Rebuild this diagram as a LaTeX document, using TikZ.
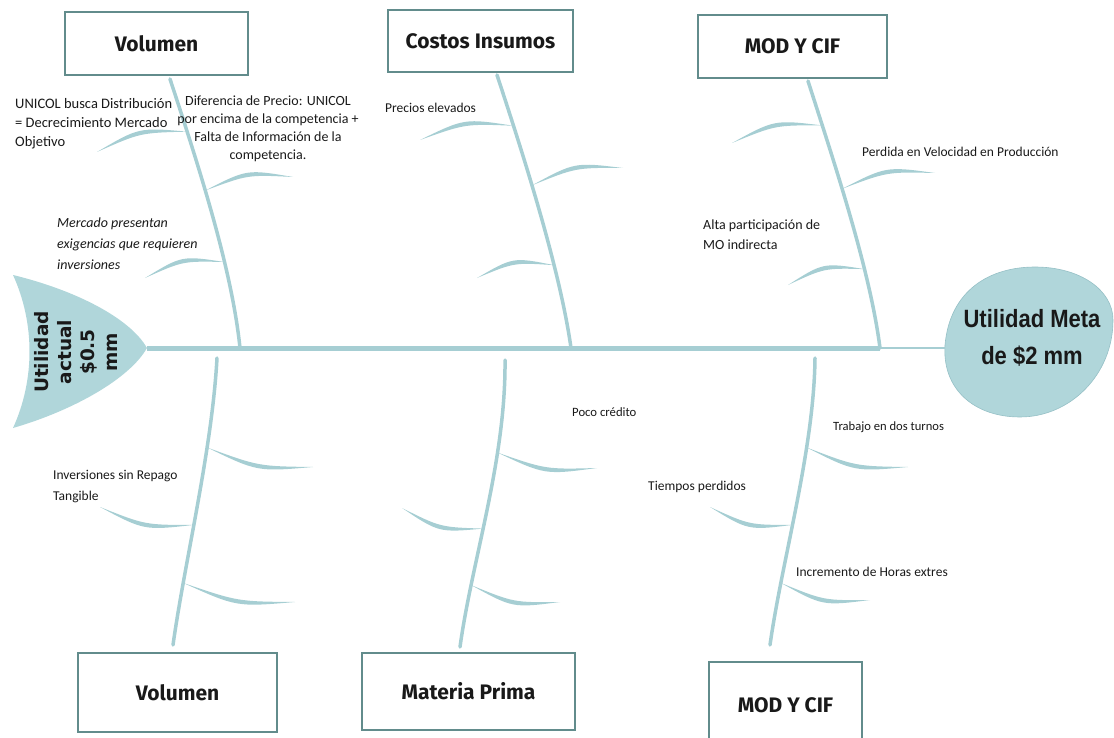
\documentclass[tikz,border=0pt]{standalone}
\usepackage{fontspec}
\setmainfont{Carlito}
\newfontfamily\titlefont{Fira Sans}
\newfontfamily\headfont{Liberation Sans}
\newfontfamily\tailfont{DejaVu Sans}
\usetikzlibrary{calc}

\definecolor{bonecol}{RGB}{166,206,211}
\definecolor{fishcol}{RGB}{176,214,218}
\definecolor{fishline}{RGB}{150,192,198}
\definecolor{boxline}{RGB}{98,140,140}
\definecolor{txtcol}{RGB}{25,25,25}

% rib: joint on the bone, outer end, bend
\newcommand{\rib}[3]{%
  \pgfmathsetmacro{\ribhi}{#3+2.8}\pgfmathsetmacro{\riblo}{#3-2.8}%
  \fill[bonecol] (#1) .. controls ($(#1)!0.5!(#2)!\ribhi pt!90:(#2)$) .. (#2)
    .. controls ($(#1)!0.5!(#2)!\riblo pt!90:(#2)$) .. (#1);}

\begin{document}
\begin{tikzpicture}[x=1pt, y=-1pt]
\tikzset{ catbox/.style={draw=boxline, line width=1.6pt, fill=white, inner sep=0pt,
            font=\titlefont\bfseries\fontsize{21}{25}\selectfont, text=txtcol},
          lbl/.style={inner sep=0pt, anchor=west, align=left, text=txtcol,
            font=\fontsize{13.5}{19}\selectfont},
          bigbone/.style={draw=bonecol, line width=3.5pt, line cap=round},
          spine/.style={draw=bonecol, line width=5pt} }

\useasboundingbox (0,0) rectangle (1114,738);
\clip (0,0) rectangle (1114,738);

% tail and head
\fill[fishcol] (13,275) .. controls (75,290) and (130,318) .. (147,348)
   .. controls (130,378) and (75,410) .. (13,428)
   .. controls (35,380) and (35,323) .. cycle;
\coordinate (tailtip) at (147,348);
\node [rotate=90, align=center, inner sep=0pt, text=txtcol,
       font=\tailfont\bfseries\fontsize{18.5}{23}\selectfont] (tail) at (76,352)
       {Utilidad\\actual\\\$0.5\\mm};

\filldraw[fill=fishcol, draw=fishline, line width=0.6pt] (945,345)
   .. controls (950,290) and (990,267) .. (1035,267)
   .. controls (1080,267) and (1113,290) .. (1113,320)
   .. controls (1113,375) and (1070,417) .. (1020,417)
   .. controls (975,417) and (942,390) .. cycle;
\coordinate (headW) at (945,348);
\node [align=center, inner sep=0pt, text=txtcol, xscale=0.88,
       font=\headfont\bfseries\fontsize{25}{37}\selectfont] (head) at (1032,338)
       {Utilidad Meta\\de \$2 mm};

% spine
\coordinate (sV) at (240,348);
\coordinate (sC) at (571,348);
\coordinate (sM) at (880,348);
\draw[spine] (tailtip) -- (sM);
\draw[draw=bonecol, line width=2pt] (sM) -- (headW);

% category boxes
\node [catbox, minimum width=183, minimum height=63] (volT) at (156.5,43.5) {Volumen};
\node [catbox, minimum width=185, minimum height=62] (cosT) at (480.5,41) {Costos Insumos};
\node [catbox, minimum width=189, minimum height=63] (modT) at (792.5,46.5) {MOD Y CIF};
\node [catbox, minimum width=199, minimum height=79] (volB) at (177.5,692.5) {Volumen};
\node [catbox, minimum width=213, minimum height=77] (matB) at (468.5,691.5) {Materia Prima};
\node [catbox, minimum width=153, minimum height=86] (modB) at (785.5,705) {MOD Y CIF};

% upper bones
\coordinate (vTt) at (170,79);
\coordinate (cTt) at (497,75);
\coordinate (mTt) at (808,81);
\draw[bigbone] (vTt) .. controls (200,170) and (232,270) .. (sV)
   coordinate[pos=0.19] (vT1) coordinate[pos=0.40] (vT2) coordinate[pos=0.66] (vT3);
\draw[bigbone] (cTt) .. controls (525,160) and (560,270) .. (sC)
   coordinate[pos=0.19] (cT1) coordinate[pos=0.40] (cT2) coordinate[pos=0.68] (cT3);
\draw[bigbone] (mTt) .. controls (835,165) and (870,270) .. (sM)
   coordinate[pos=0.17] (mT1) coordinate[pos=0.40] (mT2) coordinate[pos=0.69] (mT3);

% lower bones
\coordinate (vBt) at (217,358);  \coordinate (vBb) at (173,645);
\coordinate (mBt) at (505,360);  \coordinate (mBb) at (460,647);
\coordinate (oBt) at (815,358);  \coordinate (oBb) at (770,645);
\draw[bigbone] (vBt) .. controls (212,450) and (185,560) .. (vBb)
   coordinate[pos=0.31] (vB1) coordinate[pos=0.57] (vB2) coordinate[pos=0.77] (vB3);
\draw[bigbone] (mBt) .. controls (506,460) and (472,560) .. (mBb)
   coordinate[pos=0.31] (mB1) coordinate[pos=0.57] (mB2) coordinate[pos=0.77] (mB3);
\draw[bigbone] (oBt) .. controls (814,450) and (782,560) .. (oBb)
   coordinate[pos=0.31] (oB1) coordinate[pos=0.57] (oB2) coordinate[pos=0.77] (oB3);

% ribs
\rib{vT1}{97,152}{-12}  \rib{vT2}{293,177}{12}  \rib{vT3}{145,278}{-12}
\rib{cT1}{420,140}{-12} \rib{cT2}{623,168}{12}  \rib{cT3}{477,278}{-12}
\rib{mT1}{732,143}{-12} \rib{mT2}{935,173}{12}  \rib{mT3}{788,285}{-12}
\rib{vB1}{313,467}{-12} \rib{vB2}{100,507}{12}  \rib{vB3}{295,602}{-12}
\rib{mB1}{597,468}{-12} \rib{mB2}{402,508}{12}  \rib{mB3}{560,602}{-12}
\rib{oB1}{908,467}{-12} \rib{oB2}{710,507}{12}  \rib{oB3}{870,600}{-12}

% causes
\node [lbl, font=\fontsize{14.5}{19}\selectfont] (lUnicol) at (15,124)
      {UNICOL busca Distribución\\= Decrecimiento Mercado\\Objetivo};
\node [lbl, anchor=center, align=center, font=\fontsize{14}{18}\selectfont] (lDif) at (268,129)
      {Diferencia de Precio: UNICOL\\por encima de la competencia +\\Falta de Información de la\\competencia.};
\node [lbl, font=\itshape\fontsize{14}{21}\selectfont] (lMerc) at (57,244)
      {Mercado presentan\\exigencias que requieren\\inversiones};
\node [lbl] (lPrecios) at (385,108) {Precios elevados};
\node [lbl] (lPerdida) at (862,152) {Perdida en Velocidad en Producción};
\node [lbl, font=\fontsize{14}{20}\selectfont] (lAlta) at (703,235)
      {Alta participación de\\MO indirecta};
\node [lbl, font=\fontsize{13.5}{21}\selectfont] (lInv) at (53,487)
      {Inversiones sin Repago\\Tangible};
\node [lbl, font=\fontsize{12.7}{19}\selectfont] (lPoco) at (572,412) {Poco crédito};
\node [lbl, font=\fontsize{12.6}{19}\selectfont] (lTrab) at (833,427) {Trabajo en dos turnos};
\node [lbl] (lTiempos) at (648,487) {Tiempos perdidos};
\node [lbl] (lIncr) at (796,572) {Incremento de Horas extres};

\end{tikzpicture}
\end{document}
